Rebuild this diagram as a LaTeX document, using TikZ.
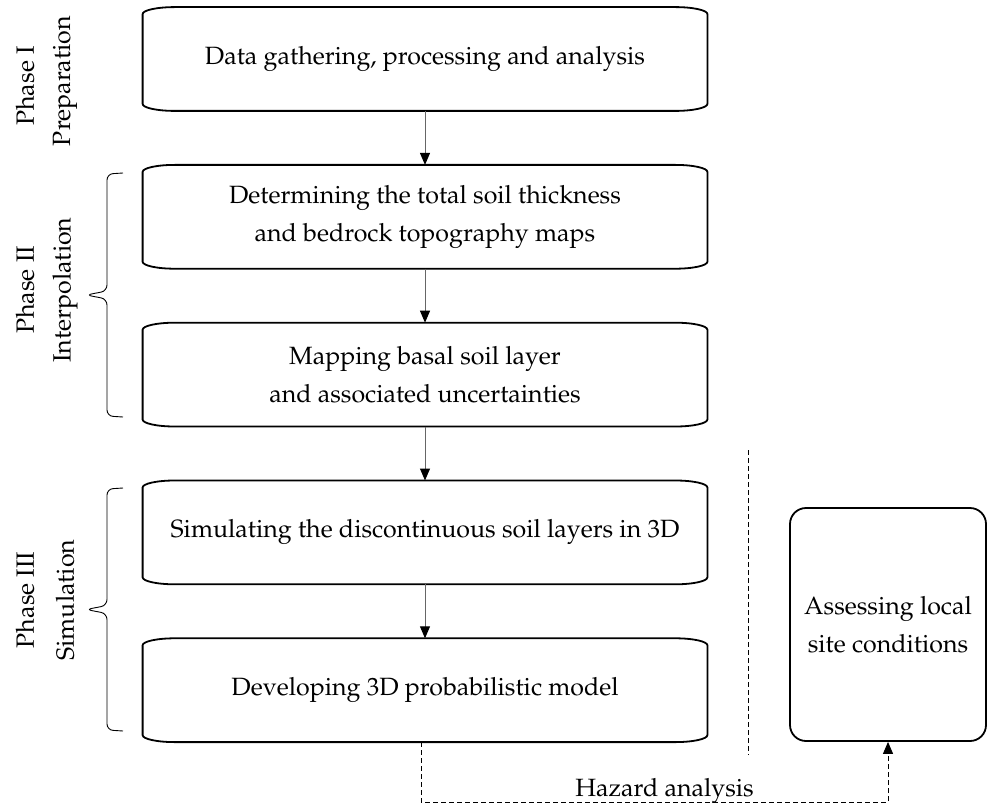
\documentclass[tikz,border=0pt]{standalone}
\usepackage[T1]{fontenc}
\usepackage{mathpazo}
\usepackage{xcolor}
\usepackage{tikz}
\usetikzlibrary{positioning, arrows.meta}

\begin{document}
\begin{tikzpicture}[
    x=0.5pt, y=-0.5pt,
    node distance=27pt,
    font=\fontsize{12.5}{19}\selectfont,
    stage/.style={rectangle, minimum width=282pt, minimum height=51.5pt, align=center, inner sep=0pt},
    frame/.style={line width=0.9pt, black},
    site/.style={rectangle, draw, line width=0.9pt, rounded corners=8pt, minimum width=98pt, minimum height=116.5pt, align=center},
    flow/.style={-{Triangle[width=5pt, length=6pt, black]}, line width=0.5pt, gray!80!black},
    hazard/.style={-{Triangle[width=5pt, length=6pt]}, dash pattern=on 2.5pt off 1.5pt, line width=0.5pt},
    phase/.style={rotate=90, anchor=center, inner sep=0pt},
    group/.style={line width=0.45pt, rounded corners=3pt}
]
\useasboundingbox (0,0) rectangle (989,802);

\node[stage] (prep) at (425,59) {Data gathering, processing and analysis};
\node[stage, below=of prep] (thick) {Determining the total soil thickness\\and bedrock topography maps};
\node[stage, below=of thick] (basal) {Mapping basal soil layer\\and associated uncertainties};
\node[stage, below=of basal] (sim) {Simulating the discontinuous soil layers in 3D};
\node[stage, below=of sim] (model) {Developing 3D probabilistic model};
\node[site] (site) at (888,624.5) {Assessing local\\site conditions};

% box outlines
\foreach \n in {prep,thick,basal,sim,model}
  \draw[frame] ([yshift=-3.5pt]\n.north west) arc[start angle=180, end angle=90, x radius=16pt, y radius=3.5pt]
    -- ([xshift=-16pt]\n.north east) arc[start angle=90, end angle=0, x radius=16pt, y radius=3.5pt]
    -- ([yshift=3.5pt]\n.south east) arc[start angle=0, end angle=-90, x radius=16pt, y radius=3.5pt]
    -- ([xshift=16pt]\n.south west) arc[start angle=270, end angle=180, x radius=16pt, y radius=3.5pt]
    -- cycle;

\draw[flow] (prep) -- (thick);
\draw[flow] (thick) -- (basal);
\draw[flow] (basal) -- (sim);
\draw[flow] (sim) -- (model);

% phases
\node[phase] (ph1) at (25,86) {Phase I};
\node[phase] (ph1name) at (65,81) {Preparation};
\node[phase] (ph2) at (25,290) {Phase II};
\node[phase] (ph2name) at (65,290) {Interpolation};
\node[phase] (ph3) at (25,600) {Phase III};
\node[phase] (ph3name) at (65,600) {Simulation};
\foreach \t/\b in {173/417, 488/731} {
  \pgfmathsetmacro{\m}{(\t+\b)/2}
  \draw[group] (123,\t) -- (107,\t+1) -- (107,\m-4) -- (86,\m) -- (107,\m+4) -- (107,\b-1) -- (123,\b);
}

% separator and hazard analysis
\coordinate (septop) at (748,450);
\coordinate (sepbot) at (748,755);
\draw[dash pattern=on 2.5pt off 1.5pt, line width=0.5pt] (septop) -- (sepbot);
\draw[hazard] ([xshift=-2pt]model.south) -- ++(0,60) -| node[pos=0.25, anchor=base, yshift=3pt, xshift=5pt] {Hazard analysis} (site.south);
\end{tikzpicture}
\end{document}
